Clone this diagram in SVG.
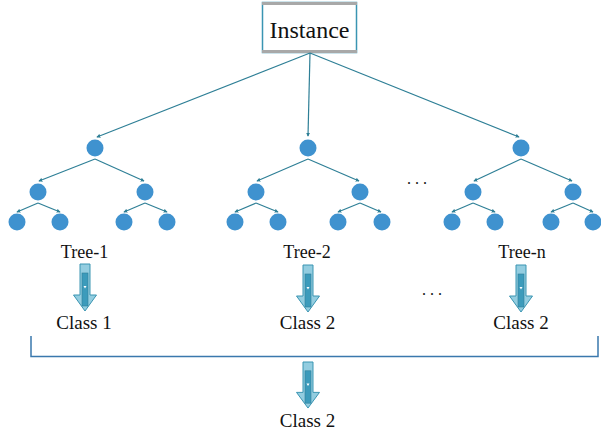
<svg xmlns="http://www.w3.org/2000/svg" xmlns:xlink="http://www.w3.org/1999/xlink" width="601" height="434" viewBox="0 0 601 434">
  <style>
    .lbl { font-family: "Liberation Serif", "Times New Roman", serif; fill: #111; text-anchor: middle; }
    .node { fill: #3f92cf; }
    .edge { fill: none; stroke: #2e7f96; stroke-width: 1.2; marker-end: url(#tip); }
    .bracket { fill: none; stroke: #3a78ad; stroke-width: 1.5; }
  </style>
  <defs>
    <marker id="tip" viewBox="0 0 6 6" refX="5" refY="3" markerWidth="4" markerHeight="4" orient="auto" markerUnits="userSpaceOnUse">
      <path d="M0,0 L6,3 L0,6 z" fill="#2e7f96"/>
    </marker>
    <!-- block arrow, top at y=0, tip at y=47 -->
    <g id="blockArrow">
      <path d="M-5,0 H5 V31 H11.5 L0,47 L-11.5,31 H-5 Z" fill="#93cde0" stroke="#3a95b2" stroke-width="1"/>
      <rect x="-3" y="9" width="6" height="33" fill="#3c9bbb" stroke="#2f7f9a" stroke-width="0.6"/>
      <path d="M-1.5,22 H1.5 L0,24.5 Z" fill="#ffffff"/>
    </g>
  </defs>

  <rect width="601" height="434" fill="#ffffff"/>

  <!-- root: Instance -->
  <g id="instance">
    <rect x="262.5" y="2.5" width="94" height="50" fill="#ffffff" stroke="#3a95b2" stroke-width="1.5"/>
    <rect x="262" y="2" width="95" height="3" fill="#a8a8a8"/>
    <rect x="262" y="50" width="95" height="3" fill="#a8a8a8"/>
    <text class="lbl" x="309.5" y="38" font-size="24">Instance</text>
  </g>

  <!-- connectors -->
  <g id="connectors">
    <!-- instance to tree roots -->
    <line class="edge" x1="310" y1="53" x2="97" y2="137"/>
    <line class="edge" x1="310" y1="53" x2="308" y2="136"/>
    <line class="edge" x1="310" y1="53" x2="519" y2="137"/>
    <!-- tree 1 -->
    <line class="edge" x1="95" y1="159" x2="39" y2="181"/>
    <line class="edge" x1="95" y1="159" x2="144" y2="181"/>
    <line class="edge" x1="38" y1="203" x2="17" y2="212"/>
    <line class="edge" x1="38" y1="203" x2="60" y2="212"/>
    <line class="edge" x1="145" y1="203" x2="124" y2="212"/>
    <line class="edge" x1="145" y1="203" x2="167" y2="212"/>
    <!-- tree 2 -->
    <line class="edge" x1="308" y1="159" x2="257" y2="181"/>
    <line class="edge" x1="308" y1="159" x2="359" y2="181"/>
    <line class="edge" x1="256" y1="203" x2="235" y2="212"/>
    <line class="edge" x1="256" y1="203" x2="278" y2="212"/>
    <line class="edge" x1="360" y1="203" x2="338" y2="212"/>
    <line class="edge" x1="360" y1="203" x2="381" y2="212"/>
    <!-- tree n -->
    <line class="edge" x1="521" y1="159" x2="474" y2="181"/>
    <line class="edge" x1="521" y1="159" x2="572" y2="181"/>
    <line class="edge" x1="473" y1="203" x2="452" y2="212"/>
    <line class="edge" x1="473" y1="203" x2="495" y2="212"/>
    <line class="edge" x1="573" y1="203" x2="551" y2="212"/>
    <line class="edge" x1="573" y1="203" x2="593" y2="212"/>
    <!-- vote bracket -->
    <path class="bracket" d="M31,336 V356.5 H598 V336"/>
  </g>

  <!-- trees -->
  <g id="tree-1">
    <circle class="node" cx="95" cy="148" r="8.5"/>
    <circle class="node" cx="38" cy="192" r="8.5"/>
    <circle class="node" cx="145" cy="192" r="8.5"/>
    <circle class="node" cx="17" cy="222" r="8.5"/>
    <circle class="node" cx="60" cy="222" r="8.5"/>
    <circle class="node" cx="124" cy="222" r="8.5"/>
    <circle class="node" cx="167" cy="222" r="8.5"/>
    <text class="lbl" x="84.5" y="258" font-size="18">Tree-1</text>
  </g>
  <g id="tree-2">
    <circle class="node" cx="308" cy="148" r="8.5"/>
    <circle class="node" cx="256" cy="192" r="8.5"/>
    <circle class="node" cx="360" cy="192" r="8.5"/>
    <circle class="node" cx="235" cy="222" r="8.5"/>
    <circle class="node" cx="278" cy="222" r="8.5"/>
    <circle class="node" cx="338" cy="222" r="8.5"/>
    <circle class="node" cx="382" cy="222" r="8.5"/>
    <text class="lbl" x="307" y="258" font-size="18">Tree-2</text>
  </g>
  <g id="tree-n">
    <circle class="node" cx="521" cy="148" r="8.5"/>
    <circle class="node" cx="473" cy="192" r="8.5"/>
    <circle class="node" cx="573" cy="192" r="8.5"/>
    <circle class="node" cx="452" cy="222" r="8.5"/>
    <circle class="node" cx="495" cy="222" r="8.5"/>
    <circle class="node" cx="551" cy="222" r="8.5"/>
    <circle class="node" cx="593" cy="222" r="8.5"/>
    <text class="lbl" x="522" y="258" font-size="18">Tree-n</text>
  </g>

  <text class="lbl" x="417" y="184" font-size="16">. . .</text>
  <text class="lbl" x="432" y="295" font-size="16">. . .</text>

  <!-- per-tree votes -->
  <g id="vote-1">
    <use xlink:href="#blockArrow" transform="translate(85,264)"/>
    <text class="lbl" x="84" y="329" font-size="19">Class  1</text>
  </g>
  <g id="vote-2">
    <use xlink:href="#blockArrow" transform="translate(308,265)"/>
    <text class="lbl" x="307.5" y="329" font-size="19">Class 2</text>
  </g>
  <g id="vote-n">
    <use xlink:href="#blockArrow" transform="translate(521,265)"/>
    <text class="lbl" x="521" y="329" font-size="19">Class 2</text>
  </g>

  <!-- final result -->
  <g id="result">
    <use xlink:href="#blockArrow" transform="translate(308,362) scale(1,0.98)"/>
    <text class="lbl" x="307.5" y="427" font-size="19">Class 2</text>
  </g>
</svg>
